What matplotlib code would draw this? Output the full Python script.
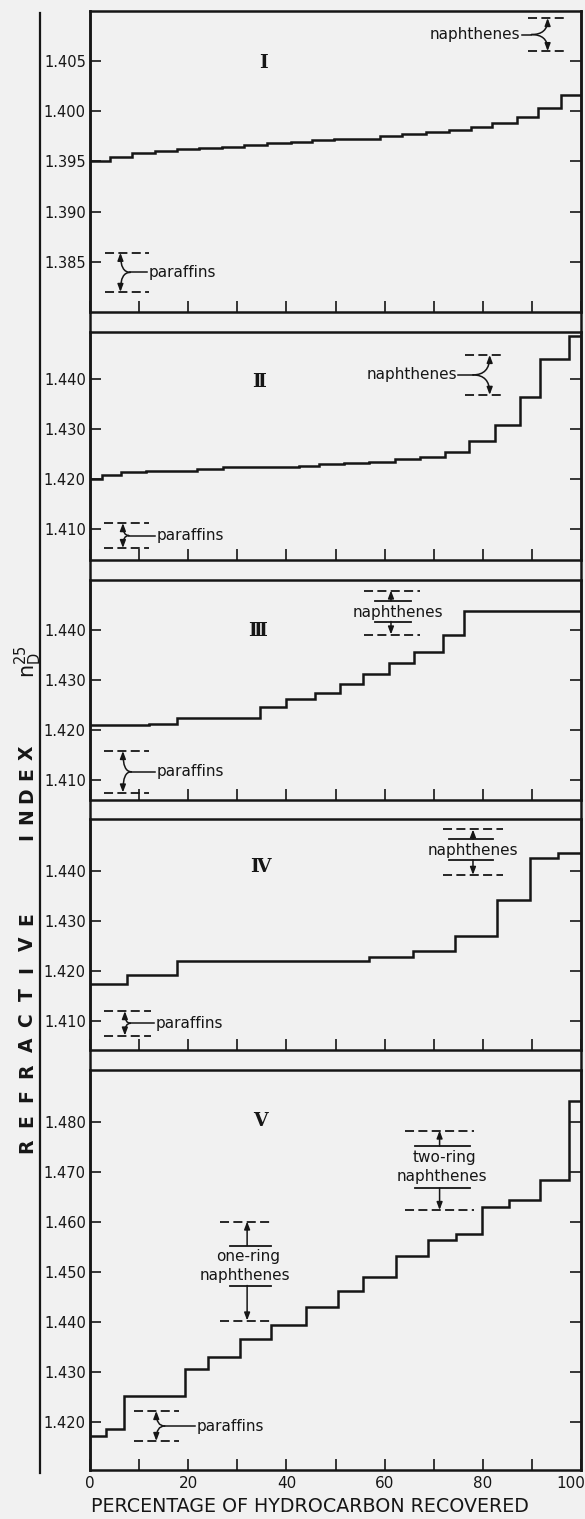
import matplotlib
matplotlib.use("Agg")
import matplotlib.pyplot as plt
from matplotlib.lines import Line2D

W, H, DPI = 585, 1519, 100
plt.rcParams['font.family'] = ['DejaVu Sans']
INK = '#161616'
BG = '#f1f1f1'

# ---------------- data (percentage recovered vs refractive index) ----------------
edges_I = [0, 4.1, 8.6, 13.3, 17.7, 22.3, 26.9, 31.4, 36.0, 40.9, 45.3, 49.7, 59.0,
           63.6, 68.4, 73.1, 77.5, 81.9, 86.9, 91.3, 96.0, 100]
values_I = [1.3950, 1.3954, 1.3958, 1.3960, 1.3962, 1.3963, 1.3964, 1.3966, 1.3968,
            1.3969, 1.3971, 1.3972, 1.3975, 1.3977, 1.3979, 1.3981, 1.3984, 1.3988,
            1.3994, 1.4003, 1.4016]

edges_II = [0, 2.4, 6.4, 11.4, 21.7, 27.0, 42.6, 46.7, 51.8, 56.8, 62.1, 67.3, 72.2,
            77.2, 82.5, 87.5, 91.7, 97.5, 100]
values_II = [1.4201, 1.4208, 1.4214, 1.4217, 1.4220, 1.4224, 1.4226, 1.4230, 1.4232,
             1.4234, 1.4240, 1.4244, 1.4255, 1.4276, 1.4308, 1.4364, 1.4441, 1.4486]

edges_III = [0, 12.0, 17.7, 34.6, 40.0, 45.8, 50.9, 55.7, 60.8, 65.9, 71.8, 76.2, 100]
values_III = [1.4210, 1.4213, 1.4225, 1.4247, 1.4262, 1.4275, 1.4292, 1.4312, 1.4335,
              1.4357, 1.4391, 1.4438]

edges_IV = [0, 7.6, 17.7, 56.8, 65.8, 74.3, 82.8, 89.7, 95.4, 100]
values_IV = [1.4175, 1.4192, 1.4220, 1.4229, 1.4240, 1.4271, 1.4343, 1.4427, 1.4436]

edges_V = [0, 3.3, 7.0, 19.4, 24.1, 30.6, 36.9, 44.0, 50.5, 55.6, 62.3, 68.8, 74.6,
           79.9, 85.3, 91.7, 97.5, 100]
values_V = [1.4172, 1.4187, 1.4252, 1.4306, 1.4330, 1.4366, 1.4395, 1.4431, 1.4463,
            1.4491, 1.4532, 1.4564, 1.4576, 1.4629, 1.4644, 1.4685, 1.4842]

yticks_I = [1.385, 1.390, 1.395, 1.400, 1.405]
yticks_II = [1.410, 1.420, 1.430, 1.440]
yticks_III = [1.410, 1.420, 1.430, 1.440]
yticks_IV = [1.410, 1.420, 1.430, 1.440]
yticks_V = [1.420, 1.430, 1.440, 1.450, 1.460, 1.470, 1.480]

x_major = [0, 20, 40, 60, 80, 100]
x_minor = [10, 30, 50, 70, 90]

# refractive-index ranges of hydrocarbon classes (dashed limits)
paraffins_I = (1.3859, 1.3820)
naphthenes_I = (1.4093, 1.4060)
paraffins_II = (1.4112, 1.4062)
naphthenes_II = (1.4449, 1.4369)
paraffins_III = (1.4158, 1.4075)
naphthenes_III = (1.4479, 1.4391)
paraffins_IV = (1.4120, 1.4071)
naphthenes_IV = (1.4484, 1.4393)
paraffins_V = (1.4222, 1.4162)
one_ring_V = (1.4601, 1.4403)
two_ring_V = (1.4783, 1.4624)

panel_names = ['\u2160', '\u2161', '\u2162', '\u2163', '\u2164']
xlabel = 'PERCENTAGE OF HYDROCARBON RECOVERED'

# ---------------- layout (pixels) ----------------
AX_L, AX_R = 90, 581
tops = [11, 332, 580, 819, 1070]
bots = [312, 560, 800, 1050, 1470]
ylims = [(1.380, 1.410), (1.4038, 1.4495), (1.406, 1.450), (1.4042, 1.4505), (1.4104, 1.4904)]
numeral_xy = [(263, 63), (259, 382), (258, 631), (260, 867), (260, 1121)]

fig = plt.figure(figsize=(W / DPI, H / DPI), dpi=DPI)
fig.patch.set_facecolor(BG)

def fx(px):
    return px / W

def fy(py):
    return 1 - py / H

# frame behind the panels (closes the gaps between them)
frame = fig.add_axes([fx(AX_L), fy(bots[-1]), fx(AX_R - AX_L), (bots[-1] - tops[0]) / H])
frame.set_facecolor('none')
frame.set_xticks([]); frame.set_yticks([])
for s in ('top', 'bottom'):
    frame.spines[s].set_visible(False)
for s in ('left', 'right'):
    frame.spines[s].set_linewidth(1.8)
    frame.spines[s].set_color(INK)

# outer vertical rule
fig.add_artist(Line2D([fx(39.5), fx(39.5)], [fy(13), fy(1473)], transform=fig.transFigure,
                      color=INK, lw=1.6))

DASH = (0, (5, 2.4))
LW_A = 1.1

def dashed(ax, y, x0, x1):
    ax.plot([x0, x1], [y, y], color=INK, lw=1.3, linestyle=DASH)

def arrow(ax, start, end, conn='arc3'):
    ax.annotate('', xy=end, xytext=start,
                arrowprops=dict(arrowstyle='-|>,head_length=0.45,head_width=0.17',
                                connectionstyle=conn, lw=LW_A, color=INK,
                                shrinkA=0, shrinkB=0))

def brace(ax, rng, dash_x, tip_x, join_x, text_x, label, ha):
    top, bot = rng
    ym = (top + bot) / 2
    for y in (top, bot):
        dashed(ax, y, dash_x[0], dash_x[1])
        arrow(ax, (join_x, ym), (tip_x, y), 'angle3,angleA=0,angleB=90')
    ax.plot([join_x, text_x], [ym, ym], color=INK, lw=LW_A)
    off = 0.3 if ha == 'left' else -0.3
    ax.text(text_x + off, ym, label, ha=ha, va='center', fontsize=11, color=INK)

def vbar(ax, rng, bar_top, bar_bot, dash_x, bar_x, arrow_x, texts):
    top, bot = rng
    dashed(ax, top, *dash_x)
    dashed(ax, bot, *dash_x)
    ax.plot(bar_x, [bar_top, bar_top], color=INK, lw=1.3)
    ax.plot(bar_x, [bar_bot, bar_bot], color=INK, lw=1.3)
    arrow(ax, (arrow_x, bar_top), (arrow_x, top))
    arrow(ax, (arrow_x, bar_bot), (arrow_x, bot))
    for t, x, y in texts:
        ax.text(x, y, t, ha='center', va='center', fontsize=11, color=INK)

series = [(edges_I, values_I, yticks_I), (edges_II, values_II, yticks_II),
          (edges_III, values_III, yticks_III), (edges_IV, values_IV, yticks_IV),
          (edges_V, values_V, yticks_V)]

axes = []
for i, (edges, vals, yt) in enumerate(series):
    ax = fig.add_axes([fx(AX_L), fy(bots[i]), fx(AX_R - AX_L), (bots[i] - tops[i]) / H])
    ax.set_facecolor('none')
    ax.set_xlim(0, 100)
    ax.set_ylim(*ylims[i])
    ax.stairs(vals, edges, baseline=None, color=INK, lw=1.8)
    ax.set_yticks(yt)
    ax.set_yticklabels([f'{v:.3f}' for v in yt])
    ax.set_xticks(x_major)
    ax.set_xticks(x_minor, minor=True)
    ax.tick_params(axis='y', which='both', direction='in', length=8, width=1.2,
                   left=True, right=True, labelsize=10.5, pad=3, colors=INK)
    ax.tick_params(axis='x', which='both', direction='in', length=8, width=1.2,
                   bottom=True, top=False, labelsize=11, pad=4, colors=INK)
    if i < 4:
        ax.tick_params(axis='x', labelbottom=False)
    else:
        # last label is nudged left so that it stays on the page, as in the original
        ax.set_xticklabels([str(v) for v in x_major[:-1]] + [''])
        ax.annotate(str(x_major[-1]), xy=(x_major[-1], 0), xycoords=('data', 'axes fraction'),
                    xytext=(-7.5, -4), textcoords='offset points', ha='center', va='top',
                    fontsize=11, color=INK)
    for s in ax.spines.values():
        s.set_linewidth(1.8)
        s.set_color(INK)
    axes.append(ax)
    nx, ny = numeral_xy[i]
    fig.text(fx(nx), fy(ny), panel_names[i], ha='center', va='center', fontsize=13.5,
             fontweight='bold', color=INK, family=['DejaVu Serif', 'DejaVu Sans'])

axI, axII, axIII, axIV, axV = axes

# annotations
brace(axI, paraffins_I, (3.1, 12.0), 6.2, 8.2, 11.6, 'paraffins', 'left')
brace(axI, naphthenes_I, (89.2, 97.1), 93.2, 89.9, 88.0, 'naphthenes', 'right')
brace(axII, paraffins_II, (2.9, 12.0), 6.7, 7.9, 13.3, 'paraffins', 'left')
brace(axII, naphthenes_II, (76.3, 84.5), 81.4, 78.0, 75.0, 'naphthenes', 'right')
brace(axIII, paraffins_III, (2.8, 12.1), 6.7, 8.4, 13.3, 'paraffins', 'left')
vbar(axIII, naphthenes_III, 1.4458, 1.4417, (55.8, 67.2), (58.0, 65.3), 61.3,
     [('naphthenes', 62.7, 1.4436)])
brace(axIV, paraffins_IV, (2.9, 12.4), 7.1, 8.2, 13.1, 'paraffins', 'left')
vbar(axIV, naphthenes_IV, 1.4465, 1.4423, (71.9, 84.1), (73.2, 82.0), 78.0,
     [('naphthenes', 78.0, 1.4442)])
brace(axV, paraffins_V, (9.0, 18.2), 13.5, 15.2, 21.4, 'paraffins', 'left')
vbar(axV, one_ring_V, 1.4553, 1.4473, (26.4, 36.9), (28.5, 36.8), 32.0,
     [('one-ring', 32.3, 1.4530), ('naphthenes', 31.5, 1.4493)])
vbar(axV, two_ring_V, 1.4752, 1.4668, (64.1, 78.3), (66.1, 77.3), 71.2,
     [('two-ring', 72.2, 1.4729), ('naphthenes', 71.7, 1.4690)])

# x-axis title
fig.text(fx(91), fy(1507), xlabel, ha='left', va='center', fontsize=13.7, color=INK)

# y-axis title, spaced letters
word1 = 'REFRACTIVE'
word2 = 'INDEX'
y1a, y1b = 1146, 919
for k, ch in enumerate(word1):
    py = y1a + (y1b - y1a) * k / (len(word1) - 1)
    fig.text(fx(27), fy(py), ch, rotation=90, ha='center', va='center', fontsize=13.5,
             fontweight='semibold', color=INK)
y2a, y2b = 837, 753
for k, ch in enumerate(word2):
    py = y2a + (y2b - y2a) * k / (len(word2) - 1)
    fig.text(fx(27), fy(py), ch, rotation=90, ha='center', va='center', fontsize=13.5,
             fontweight='semibold', color=INK)
fig.text(fx(28), fy(662), r'$\mathregular{n_D^{25}}$', rotation=90, ha='center',
         va='center', fontsize=15, color=INK)

fig.savefig('out.png', dpi=DPI, facecolor=BG)
